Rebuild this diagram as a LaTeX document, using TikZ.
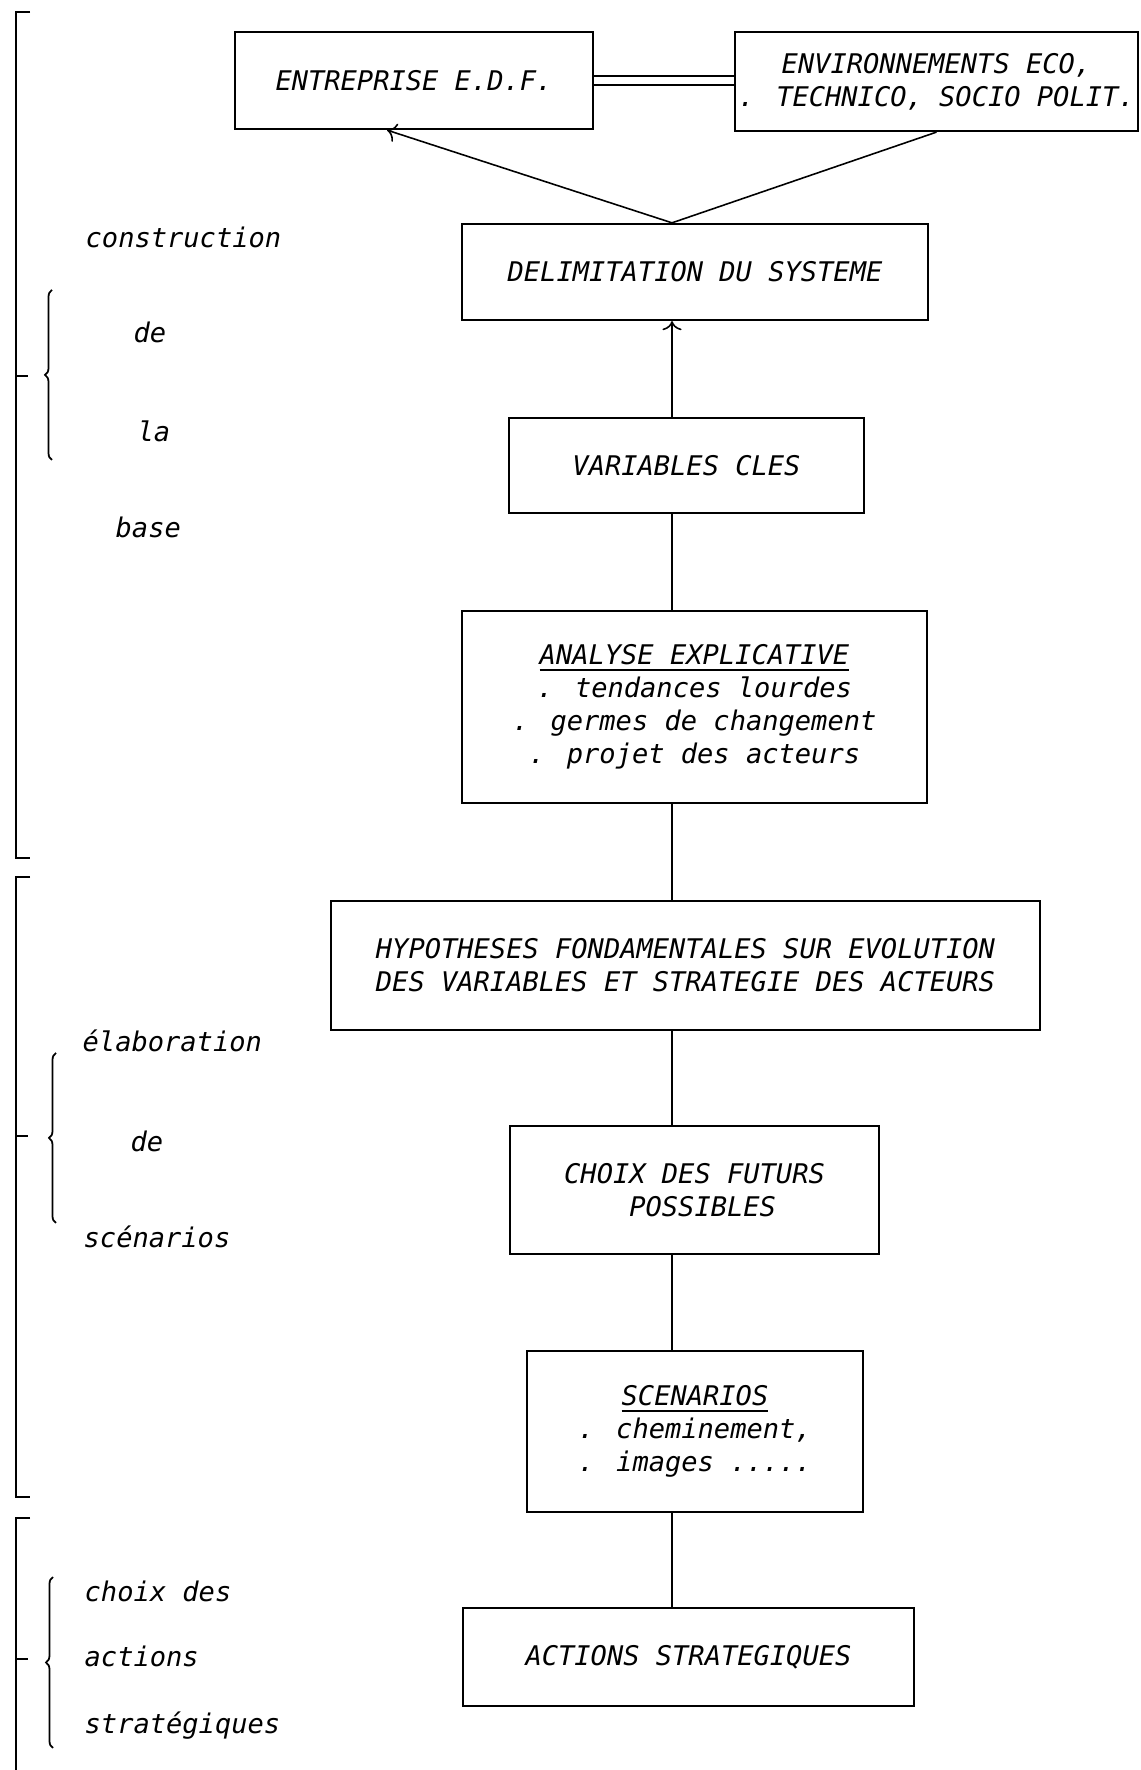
\documentclass[tikz,border=0pt]{standalone}
\usepackage{fontspec}
\newfontfamily\plotfont[ItalicFont={DejaVu Sans Mono Oblique}]{DejaVu Sans Mono}
\usetikzlibrary{arrows.meta}
\usetikzlibrary{decorations.pathreplacing}

\begin{document}
\begin{tikzpicture}[
  font=\plotfont\itshape\fontsize{7.7}{9.4}\selectfont,
  etape/.style={draw, line width=0.65pt, align=center, inner sep=0pt},
  lien/.style={line width=0.45pt},
  cadre/.style={line width=0.7pt},
  accolade/.style={decorate, decoration={brace, amplitude=0.7mm}, line width=0.5pt}
]
  \useasboundingbox (0,0) rectangle (11.4,17.7);

  % Vertical axis of the chain
  \coordinate (spine) at (6.72,0);

  % Boxes
  \node[etape, minimum width=3.58cm, minimum height=0.97cm] (entreprise) at (4.14,16.895) {ENTREPRISE E.D.F.};
  \node[etape, minimum width=4.03cm, minimum height=0.99cm] (environ) at (9.365,16.885) {ENVIRONNEMENTS ECO,\\. TECHNICO, SOCIO POLIT.};
  \node[etape, minimum width=4.66cm, minimum height=0.96cm] (delim) at (6.95,14.98) {DELIMITATION DU SYSTEME};
  \node[etape, minimum width=3.55cm, minimum height=0.95cm] (vars) at (6.865,13.045) {VARIABLES CLES};
  \node[etape, minimum width=4.65cm, minimum height=1.92cm] (analyse) at (6.945,10.63) {\underline{ANALYSE EXPLICATIVE}\\. tendances lourdes\\. germes de changement\\. projet des acteurs};
  \node[etape, minimum width=7.09cm, minimum height=1.29cm] (hypo) at (6.855,8.045) {HYPOTHESES FONDAMENTALES SUR EVOLUTION\\DES VARIABLES ET STRATEGIE DES ACTEURS};
  \node[etape, align=left, minimum width=3.69cm, minimum height=1.28cm] (choix) at (6.945,5.8) {CHOIX DES FUTURS\\\hphantom{CHOI}POSSIBLES};
  \node[etape, minimum width=3.36cm, minimum height=1.61cm] (scen) at (6.95,3.385) {\underline{SCENARIOS}\\. cheminement,\\. images .....};
  \node[etape, minimum width=4.51cm, minimum height=0.98cm] (actions) at (6.885,1.13) {ACTIONS STRATEGIQUES};

  % Links
  \draw[lien, double, double distance=0.7mm] (entreprise.east) -- (entreprise.east -| environ.west);
  \draw[lien, ->] (delim.north -| spine) -- ([xshift=-2.7mm]entreprise.south);
  \draw[lien] (delim.north -| spine) -- (environ.south);
  \draw[lien, ->] (vars.north -| spine) -- (delim.south -| spine);
  \draw[lien] (vars.south -| spine) -- (analyse.north -| spine);
  \draw[lien] (analyse.south -| spine) -- (hypo.north -| spine);
  \draw[lien] (hypo.south -| spine) -- (choix.north -| spine);
  \draw[lien] (choix.south -| spine) -- (scen.north -| spine);
  \draw[lien] (scen.south -| spine) -- (actions.north -| spine);

  % Brackets on the left
  \draw[cadre] (0.30,17.58) -- (0.16,17.58) -- (0.16,9.12) -- (0.30,9.12);
  \draw[cadre] (0.16,13.94) -- (0.28,13.94);
  \draw[cadre] (0.30,8.93) -- (0.16,8.93) -- (0.16,2.73) -- (0.30,2.73);
  \draw[cadre] (0.16,6.34) -- (0.28,6.34);
  \draw[cadre] (0.30,2.52) -- (0.16,2.52) -- (0.16,0);
  \draw[cadre] (0.16,1.11) -- (0.28,1.11);

  % Braces
  \draw[accolade] (0.52,13.10) -- (0.52,14.80);
  \draw[accolade] (0.56,5.47) -- (0.56,7.17);
  \draw[accolade] (0.53,0.22) -- (0.53,1.93);

  % Phase labels
  \node[anchor=base west, inner sep=0pt] (construction) at (0.85,15.22) {construction};
  \node[anchor=base west, inner sep=0pt] (de1) at (1.33,14.27) {de};
  \node[anchor=base west, inner sep=0pt] (la) at (1.37,13.28) {la};
  \node[anchor=base west, inner sep=0pt] (base) at (1.15,12.32) {base};
  \node[anchor=base west, inner sep=0pt] (elaboration) at (0.82,7.18) {élaboration};
  \node[anchor=base west, inner sep=0pt] (de2) at (1.30,6.18) {de};
  \node[anchor=base west, inner sep=0pt] (scenarios) at (0.83,5.22) {scénarios};
  \node[anchor=base west, inner sep=0pt] (choixdes) at (0.84,1.68) {choix des};
  \node[anchor=base west, inner sep=0pt] (actionsl) at (0.84,1.03) {actions};
  \node[anchor=base west, inner sep=0pt] (strategiques) at (0.84,0.37) {stratégiques};

\end{tikzpicture}
\end{document}
